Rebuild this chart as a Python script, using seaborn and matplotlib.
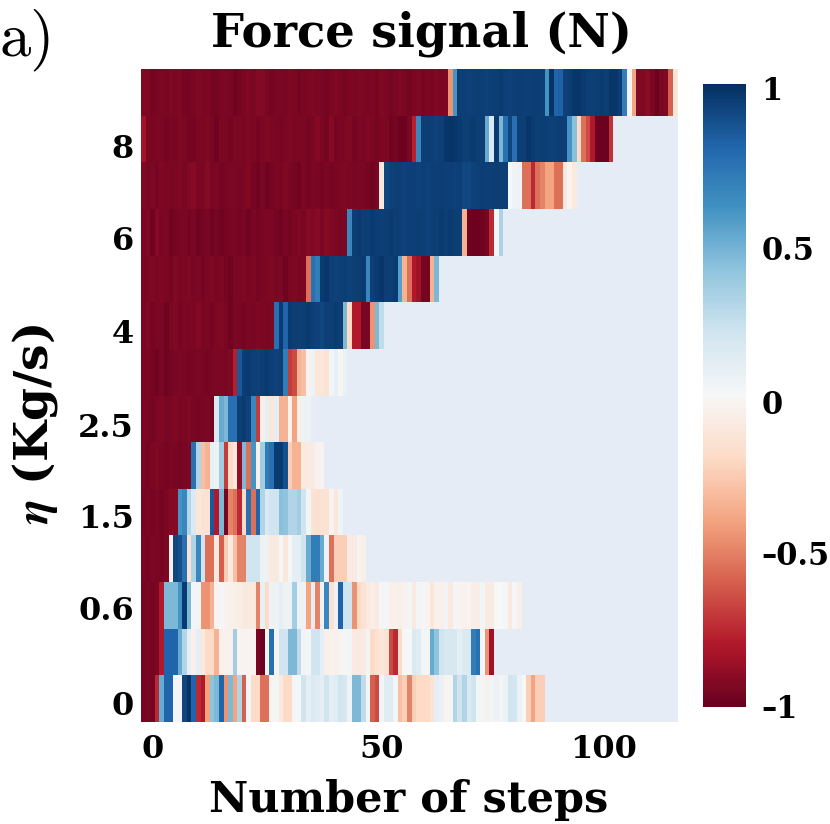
import numpy as np
import pandas as pd
import seaborn as sns
import matplotlib.pyplot as plt
from matplotlib.transforms import ScaledTranslation

# force signal per eta (top row first), one value per step, rows stop when the run ended
row_1 = [-.93,-.93,-.96,-.95,-.94,-.95,-.93,-.94,-.93,-.96,
         -.96,-.95,-.93,-.94,-.94,-.96,-.96,-.94,-.94,-.95,
         -.97,-.96,-.94,-.93,-.94,-.92,-.92,-.95,-.96,-.94,
         -.94,-.95,-.93,-.94,-.96,-.95,-.94,-.93,-.94,-.95,
         -.96,-.94,-.93,-.94,-.96,-.94,-.94,-.93,-.94,-.95,
         -.94,-.96,-.93,-.94,-.96,-.95,-.93,-.94,-.96,-.94,
         -.93,-.96,-.94,-.95,-.93,-.94,-.93,-.45,.6,
         .94,.94,.93,.94,.95,.94,.93,.94,.95,.96,.94,.93,.94,.95,.94,.94,.95,.95,.94,
         .6,.98,.8,.82,
         .93,.95,.97,.97,.96,.95,.94,.95,.96,.95,.97,.97,.95,
         .7,.02,-.4,-.93,-.93,-.9,-.94,-.98,-.95,-.93,-.6,-.12]
row_2 = [-.84,-.94,-.95,-.94,-.94,-.96,-.94,-.95,-.93,-.94,
         -.96,-.96,-.94,-.94,-.93,-.95,-.97,-.94,-.94,-.96,
         -.94,-.94,-.95,-.93,-.94,-.96,-.94,-.93,-.94,-.95,
         -.96,-.94,-.93,-.95,-.94,-.94,-.96,-.95,-.92,-.94,
         -.96,-.91,-.96,-.95,-.94,-.93,-.96,-.94,-.95,-.93,
         -.94,-.96,-.94,-.94,-.97,-.96,-.98,-.98,-.94,-.78,.65,
         .94,.95,.94,.93,.94,.97,.98,.97,.96,.94,.95,.96,.95,.94,
         .5,.15,.96,.45,.75,.92,.75,
         .94,.95,.97,.96,.94,.95,.94,.93,.94,.95,.94,
         .6,.42,-.2,-.55,-.65,-.8,-.98,-.98,-.98,-.72]
row_3 = [-.93,-.95,-.94,-.96,-.93,-.94,-.95,-.94,-.93,-.95,
         -.93,-.91,-.94,-.95,-.91,-.95,-.94,-.96,-.95,-.94,
         -.94,-.95,-.94,-.93,-.96,-.97,-.95,-.97,-.96,-.94,
         -.95,-.93,-.95,-.96,-.97,-.94,-.96,-.94,-.95,-.96,
         -.94,-.96,-.95,-.94,-.93,-.94,-.95,-.94,-.94,-.96,
         -.97,-.95,-.1,
         .91,.93,.94,.94,.93,.94,.94,.93,.94,.93,.94,.94,.95,.94,.94,.93,.94,.91,.91,.93,.94,.95,.94,.94,.95,.94,.94,
         .0,.04,.05,-.55,-.55,-.75,-.55,-.5,-.4,-.4,-.55,-.55,-.1,-.03,-.1]
row_4 = [-.95,-.93,-.97,-.92,-.95,-.94,-.97,-.96,-.95,-.94,
         -.96,-.95,-.97,-.96,-.95,-.97,-.96,-.97,-.96,-.95,
         -.94,-.96,-.95,-.97,-.95,-.96,-.95,-.94,-.94,-.96,
         -.97,-.95,-.96,-.94,-.93,-.95,-.91,-.93,-.91,-.94,
         -.91,-.93,-.94,-.95,-.94,.65,
         .95,.96,.95,.94,.96,.95,.94,.95,.96,.95,.94,.93,.94,.94,.95,.94,.93,.94,.95,.96,.95,.96,.95,.94,
         -.35,-.97,-.98,-.98,-.97,-.95,-.75,.02,.32]
row_5 = [-.95,-.94,-.93,-.95,-.93,-.94,-.96,-.93,-.95,-.94,
         -.93,-.95,-.94,-.96,-.94,-.93,-.95,-.94,-.96,-.97,
         -.95,-.94,-.93,-.95,-.94,-.96,-.95,-.94,-.93,-.95,
         -.94,-.97,-.94,-.93,-.95,-.94,-.55,.75,.7,
         .96,.97,.94,.93,.94,.95,.93,.94,.95,.96,.65,.94,.96,.97,.95,.94,.96,.55,
         -.35,-.55,-.8,-.85,-.96,-.96,-.35,.45]
row_6 = [-.95,-.93,-.96,-.94,-.95,-.97,-.94,-.93,-.96,-.94,
         -.95,-.94,-.92,-.95,-.94,-.96,-.94,-.93,-.95,-.97,
         -.94,-.95,-.96,-.94,-.95,-.93,-.94,-.95,-.94,.75,.96,.8,
         .96,.95,.94,.95,.96,.94,.93,.91,.94,.95,.96,.94,
         .45,-.2,-.8,-.8,-.95,-.95,-.45,.45,.25]
row_7 = [-.95,-.94,-.96,-.97,-.95,-.97,-.96,-.95,-.94,-.95,
         -.96,-.95,-.94,-.95,-.96,-.95,-.94,-.94,-.95,-.93,-.78,.85,
         .95,.96,.94,.93,.95,.96,.94,.93,.94,.7,
         -.7,-.65,-.35,-.3,-.03,.05,-.12,-.12,-.15,.03,.08,-.02,.07]
row_8 = [-.94,-.95,-.96,-.94,-.93,-.95,-.94,-.93,-.95,-.94,-.93,-.95,-.96,-.95,-.94,-.96,
         .15,.5,.45,.75,.75,.94,.96,.93,.65,-.7,-.06,.1,-.12,.1,-.35,-.35,-.03,-.4,-.06,.05,.05,.1]
row_9 = [-.95,-.96,-.94,-.93,-.95,-.96,-.94,-.95,-.96,-.95,-.94,
         .75,.3,-.3,-.35,.08,.05,.35,-.7,-.2,-.1,-.88,.45,-.55,.6,-.05,.35,.7,.75,.96,.96,.88,
         -.25,-.35,-.35,-.1,-.08,-.08,-.04,-.03]
row_10 = [-.96,-.95,-.96,-.94,-.96,-.94,-.92,-.92,
          .6,.65,.3,.15,-.12,-.15,-.15,.85,-.8,.45,-.96,-.5,-.55,-.75,-.2,.75,-.55,.8,.3,.15,.2,.2,
          .42,.4,.3,.3,.35,.2,.03,-.15,-.17,-.15,-.15,-.03,-.12,.04]
row_11 = [-.95,-.96,-.94,-.95,-.96,-.94,
          -.05,.92,.88,.75,-.15,.3,.65,.2,-.55,-.55,-.1,-.6,-.25,-.1,-.3,-.5,-.5,.2,.2,.2,.05,.05,-.1,-.1,
          .02,-.12,.02,.1,.1,.2,.5,.7,.7,.5,.05,-.55,-.25,-.25,-.25,-.08,-.08,-.03,-.06]
row_12 = [-.96,-.95,-.96,-.94,
          -.8,.45,.45,.45,.6,.96,.45,.03,.03,-.45,-.45,-.35,-.03,.02,-.03,-.05,-.06,-.07,-.1,-.1,-.1,
          -.5,.08,-.2,.05,.05,.1,.05,.05,.35,.05,.05,-.4,.1,-.5,.05,.65,-.15,.05,.8,.2,.2,-.45,-.2,-.15,
          -.1,-.07,-.1,.02,.02,-.05,-.05,-.06,-.04,.03,-.1,.03,.01,-.03,-.12,-.05,-.05,.03,-.1,.02,
          -.03,-.04,-.03,-.07,-.07,.03,-.08,-.08,0,0,.02,-.1,.02,-.06]
row_13 = [-.96,-.95,-.96,-.94,
          -.8,.8,.8,.8,.5,.3,.1,-.05,.1,-.1,-.2,-.2,-.35,-.05,-.04,-.04,.35,-.03,-.03,-.03,-.03,
          -.96,-.98,.02,.75,-.03,.2,.2,.45,.45,.25,.03,.02,.2,.2,.1,-.05,-.04,-.05,-.03,.02,.03,
          -.08,-.1,-.08,.03,-.2,-.15,-.12,-.15,-.65,-.75,-.2,.0,.0,.15,.12,.03,.03,.5,.4,.2,
          .17,.17,.17,.1,.15,.15,.7,.75,.02,-.45,-.85]
row_14 = [-.96,-.95,-.96,
          -.75,.5,.8,.8,.02,.02,.92,.98,.8,-.75,-.8,-.4,.4,.45,.8,-.45,.45,-.4,.3,-.6,.02,-.2,-.2,
          -.55,-.55,-.03,.03,-.1,-.2,-.2,.02,.02,.2,.1,.15,.12,.1,.2,.1,.12,.2,.17,.05,.45,.45,.25,.03,
          -.6,-.65,.03,.12,.12,.03,-.3,-.25,-.5,-.25,-.2,-.2,-.2,-.15,.1,.07,-.03,-.01,.3,.2,.3,.15,.2,
          .03,.03,-.05,.03,.06,.03,.05,.2,.18,.06,.0,-.25,-.4,-.25,-.25]

eta_labels = ['8', '6', '4', '2.5', '1.5', '0.6', '0']
step_labels = ['0', '50', '100']
cbar_values = [-1, -0.5, 0, 0.5, 1]
cbar_labels = ['\u20131', '\u20130.5', '0', '0.5', '1']

df = pd.DataFrame([row_1, row_2, row_3, row_4, row_5, row_6, row_7, row_8, row_9,
                   row_10, row_11, row_12, row_13, row_14])

W, H = 830, 824
plt.rcParams['mathtext.fontset'] = 'cm'
plt.rcParams['font.family'] = 'DejaVu Serif'
plt.rcParams['font.weight'] = 'bold'

fig = plt.figure(figsize=(W / 100, H / 100), dpi=100)
ax = fig.add_axes([141 / W, 1 - 722 / H, 536.5 / W, 653 / H])
cax = fig.add_axes([703 / W, 1 - 707 / H, 43 / W, 623 / H])

ax.set_facecolor('#E5ECF6')
sns.heatmap(df, ax=ax, cbar_ax=cax, cmap='RdBu', vmin=-1, vmax=1,
            xticklabels=False, yticklabels=False)

ax.set_xticks([0.5, 50.5, 100.5], step_labels, rotation=0, size=23)
ax.set_yticks(np.arange(1.5, 14, 2), eta_labels, rotation=0, size=23)
ax.tick_params(length=0, pad=5)
ax.tick_params(axis='x', pad=9)

# labels sit a bit off their ticks in the original
for lab, dx in zip(ax.get_xticklabels(), [9, 9, 2]):
    lab.set_transform(lab.get_transform() + ScaledTranslation(dx / 100, 0, fig.dpi_scale_trans))
for lab, dy in zip(ax.get_yticklabels(), [7, 6, 5, 6, 4, 3, 4]):
    lab.set_transform(lab.get_transform() + ScaledTranslation(0, -dy / 100, fig.dpi_scale_trans))

ax.set_title('Force signal (N)', size=33.5, weight='bold', pad=16, x=0.523)
ax.set_xlabel('Number of steps', size=31, weight='bold', va='center')
ax.xaxis.set_label_coords(0.498, -0.119)
ax.set_ylabel(r'$\boldsymbol{\eta}$ (Kg/s)', size=34, weight='bold', va='center')
ax.yaxis.set_label_coords(-0.198, 0.456)

cbar = ax.collections[0].colorbar
cbar.outline.set_visible(False)
cbar.set_ticks(cbar_values, labels=cbar_labels)
cax.tick_params(length=0, pad=11, labelsize=22)
for lab, dy in zip(cax.get_yticklabels(), [-1, 2, 7, 8, 4]):
    lab.set_transform(lab.get_transform() + ScaledTranslation(0, -dy / 100, fig.dpi_scale_trans))

fig.text(0, 1 - 40 / H, 'a)', family='cmr10', weight='normal', size=45, va='center', ha='left')

fig.savefig('out.png', dpi=100)
